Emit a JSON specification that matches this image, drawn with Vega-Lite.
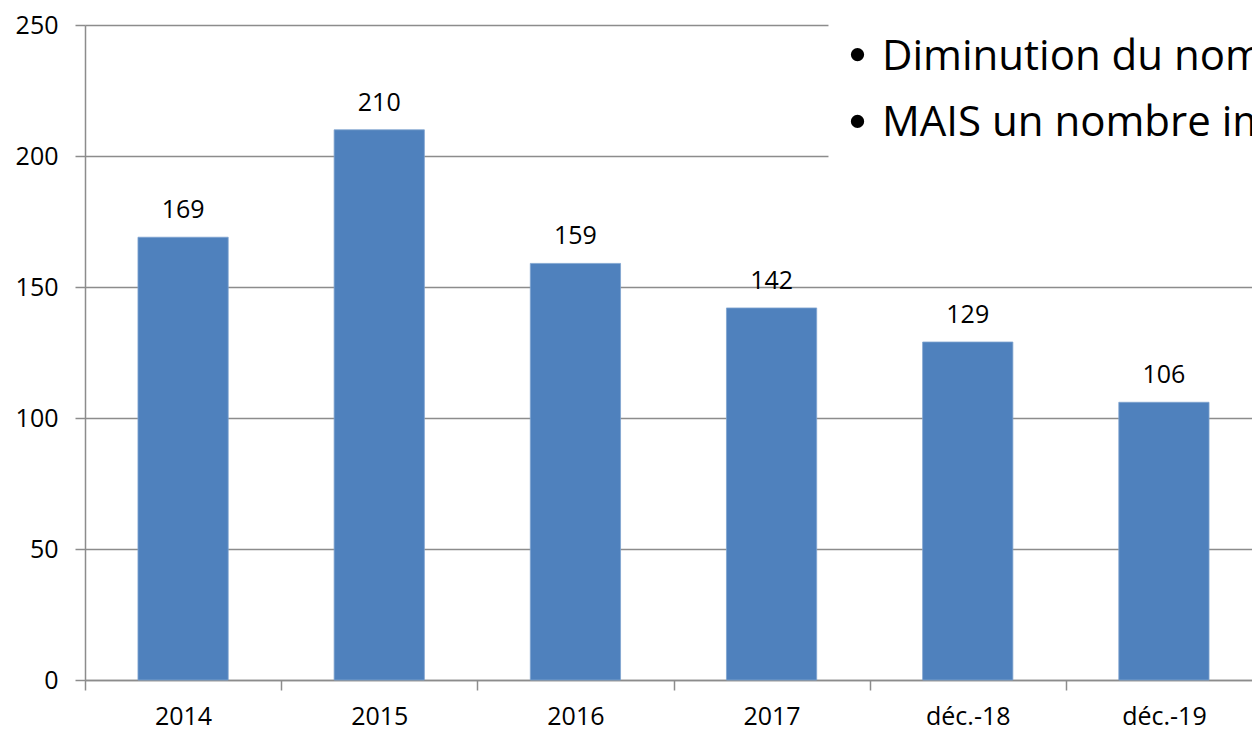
{
  "$schema": "https://vega.github.io/schema/vega-lite/v6.json",
  "autosize": "none",
  "width": 1177,
  "height": 655,
  "padding": {"left": 85, "top": 25, "right": 0, "bottom": 50},
  "background": "white",
  "config": {
    "view": {"stroke": null},
    "font": "Open Sans",
    "axis": {
      "domainColor": "#8c8c8c",
      "domainWidth": 1.5,
      "tickColor": "#8c8c8c",
      "tickWidth": 1.5,
      "gridColor": "#8c8c8c",
      "gridWidth": 1.5,
      "labelColor": "#000000",
      "labelFont": "Open Sans",
      "labelFontSize": 25,
      "title": null
    }
  },
  "datasets": {
    "bars": [
      {"periode": "2014", "valeur": 169},
      {"periode": "2015", "valeur": 210},
      {"periode": "2016", "valeur": 159},
      {"periode": "2017", "valeur": 142},
      {"periode": "déc.-18", "valeur": 129},
      {"periode": "déc.-19", "valeur": 106}
    ],
    "notes": [
      {"pos": 4.063, "bx": 3.938, "by": 238.7, "y": 232.8, "texte": "Diminution du nombre de cas"},
      {"pos": 4.063, "bx": 3.938, "by": 213.2, "y": 207.5, "texte": "MAIS un nombre important"}
    ],
    "box": [
      {"x1": 3.79, "x2": 6.2, "y1": 190, "y2": 262}
    ]
  },
  "layer": [
    {
      "data": {"name": "bars"},
      "encoding": {
        "x": {
          "field": "periode",
          "type": "nominal",
          "sort": null,
          "scale": {"paddingInner": 0, "paddingOuter": 0},
          "axis": {
            "labelAngle": 0,
            "tickBand": "extent",
            "tickSize": 10,
            "labelPadding": 14,
            "grid": false
          }
        },
        "y": {
          "field": "valeur",
          "type": "quantitative",
          "scale": {"domain": [0, 250], "nice": false},
          "axis": {
            "values": [0, 50, 100, 150, 200, 250],
            "tickSize": 10,
            "labelPadding": 17,
            "grid": true
          }
        }
      },
      "layer": [
        {"mark": {"type": "bar", "width": {"band": 0.46}, "color": "#4F81BD", "stroke": "#7FA3CF", "strokeWidth": 0.8}},
        {
          "mark": {"type": "text", "baseline": "alphabetic", "dy": -19, "fontSize": 25, "color": "#000000"},
          "encoding": {"text": {"field": "valeur", "type": "quantitative"}}
        }
      ]
    },
    {
      "layer": [
        {
          "data": {"name": "box"},
          "mark": {"type": "rect", "color": "white", "clip": false},
          "encoding": {
            "x": {"field": "x1", "type": "quantitative", "scale": {"domain": [0, 6], "nice": false, "zero": false}, "axis": null},
            "x2": {"field": "x2"},
            "y": {"field": "y1", "type": "quantitative"},
            "y2": {"field": "y2"}
          }
        },
        {
          "data": {"name": "notes"},
          "mark": {"type": "point", "shape": "circle", "filled": true, "size": 177, "color": "#000000", "opacity": 1},
          "encoding": {
            "x": {"field": "bx", "type": "quantitative", "axis": null},
            "y": {"field": "by", "type": "quantitative"}
          }
        },
        {
          "data": {"name": "notes"},
          "mark": {"type": "text", "align": "left", "baseline": "alphabetic", "fontSize": 42, "color": "#000000"},
          "encoding": {
            "x": {"field": "pos", "type": "quantitative", "axis": null},
            "y": {"field": "y", "type": "quantitative"},
            "text": {"field": "texte", "type": "nominal"}
          }
        }
      ]
    }
  ],
  "resolve": {"scale": {"x": "independent"}}
}
